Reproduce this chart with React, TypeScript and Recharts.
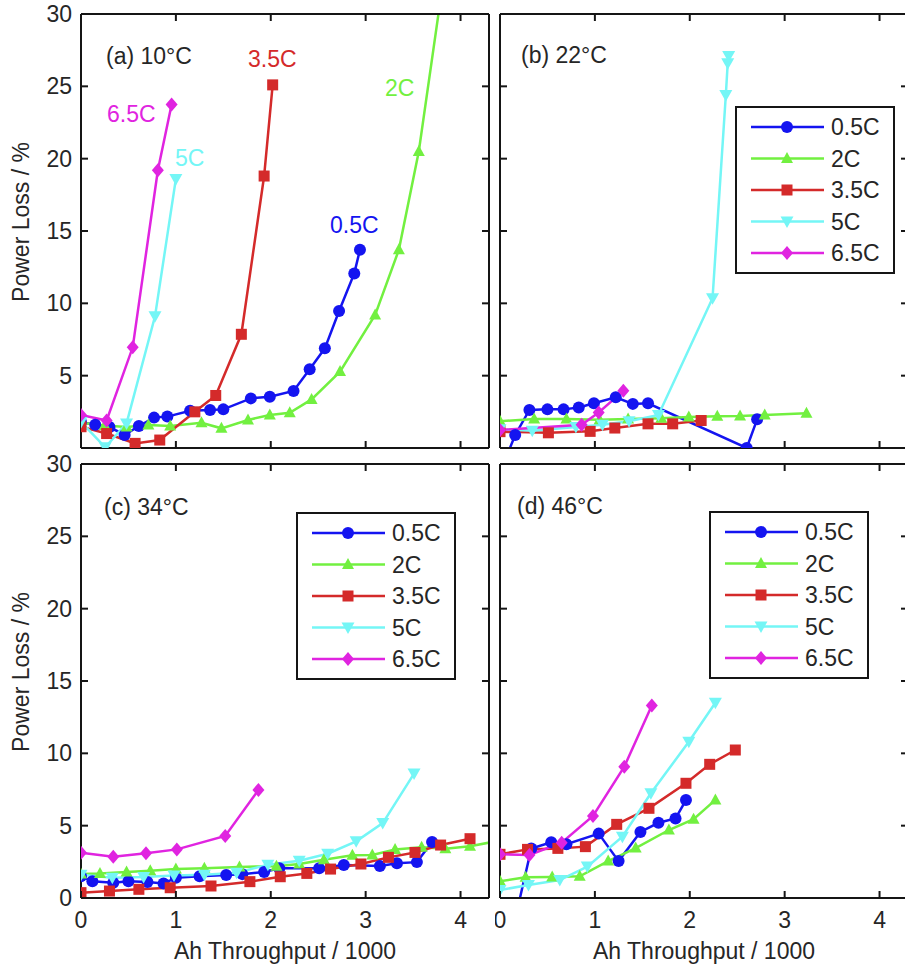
import React from 'react';
import { LineChart, Line, XAxis, YAxis } from 'recharts';

type Pair = [number, number];

const rates = ['0.5C', '2C', '3.5C', '5C', '6.5C'];
const colors = ['#1414f0', '#72f040', '#d42a2a', '#74f6f6', '#e024e0'];
const shapes = ['circle', 'triangle', 'square', 'triangleDown', 'diamond'];

const xTicks = [0, 1, 2, 3, 4];
const yTicks = [0, 5, 10, 15, 20, 25, 30];
const xDomain: [number, number] = [0, 4.3];
const yDomain: [number, number] = [0, 30];

// (a) 10°C
const a05: Pair[] = [[0, 1.8], [0.15, 1.6], [0.3, 1.45], [0.46, 0.9], [0.61, 1.52], [0.77, 2.1], [0.91, 2.17], [1.15, 2.58], [1.36, 2.63], [1.5, 2.67], [1.79, 3.43], [1.99, 3.55], [2.24, 3.94], [2.41, 5.44], [2.57, 6.89], [2.72, 9.47], [2.88, 12.07], [2.94, 13.7]];
const a2: Pair[] = [[0, 1.75], [0.25, 1.55], [0.48, 1.45], [0.71, 1.59], [0.94, 1.52], [1.27, 1.75], [1.48, 1.36], [1.76, 1.94], [1.99, 2.28], [2.2, 2.44], [2.43, 3.36], [2.73, 5.28], [3.1, 9.2], [3.35, 13.7], [3.56, 20.5], [3.8, 31.5]];
const a35: Pair[] = [[0, 1.47], [0.27, 1.0], [0.57, 0.32], [0.83, 0.55], [1.2, 2.5], [1.42, 3.63], [1.69, 7.86], [1.93, 18.8], [2.02, 25.1]];
const a5: Pair[] = [[0, 1.8], [0.255, 0.05], [0.48, 1.7], [0.78, 9.1], [1.0, 18.6]];
const a65: Pair[] = [[0, 2.28], [0.27, 1.9], [0.545, 6.96], [0.81, 19.2], [0.955, 23.75]];

// (b) 22°C
const b05: Pair[] = [[0, -1.7], [0.16, 0.9], [0.31, 2.63], [0.5, 2.67], [0.67, 2.67], [0.83, 2.8], [0.99, 3.09], [1.22, 3.5], [1.4, 3.05], [1.56, 3.09], [2.6, 0], [2.71, 1.98]];
const b2: Pair[] = [[0, 1.85], [0.36, 2.0], [0.7, 2.0], [1.05, 1.95], [1.35, 2.0], [1.7, 2.05], [1.99, 2.15], [2.29, 2.2], [2.53, 2.22], [2.79, 2.28], [3.23, 2.4]];
const b35: Pair[] = [[0, 1.13], [0.51, 1.05], [0.95, 1.15], [1.21, 1.38], [1.56, 1.67], [1.82, 1.67], [2.12, 1.9]];
const b5: Pair[] = [[0, 1.3], [0.34, 1.2], [0.8, 1.45], [1.08, 1.6], [1.36, 1.85], [1.67, 2.28], [2.24, 10.35], [2.38, 24.4], [2.4, 26.6], [2.41, 27.1]];
const b65: Pair[] = [[0, 1.25], [0.86, 1.6], [1.04, 2.45], [1.3, 3.95]];

// (c) 34°C
const c05: Pair[] = [[0, 1.5], [0.12, 1.15], [0.34, 1.05], [0.5, 1.15], [0.7, 1.1], [0.87, 1.0], [1.0, 1.4], [1.25, 1.5], [1.53, 1.59], [1.7, 1.65], [1.93, 1.8], [2.09, 2.05], [2.51, 2.05], [2.77, 2.28], [3.15, 2.21], [3.33, 2.4], [3.54, 2.48], [3.7, 3.87]];
const c2: Pair[] = [[0, 1.66], [0.2, 1.7], [0.48, 1.8], [0.73, 1.88], [1.0, 2.0], [1.3, 2.05], [1.67, 2.15], [2.06, 2.2], [2.3, 2.35], [2.56, 2.65], [2.86, 2.95], [3.07, 2.97], [3.31, 3.35], [3.59, 3.5], [3.84, 3.4], [4.1, 3.58], [4.4, 3.95]];
const c35: Pair[] = [[0, 0.37], [0.3, 0.48], [0.61, 0.6], [0.94, 0.71], [1.37, 0.83], [1.78, 1.13], [2.1, 1.47], [2.38, 1.7], [2.63, 2.0], [2.95, 2.35], [3.24, 2.81], [3.52, 3.15], [3.79, 3.66], [4.1, 4.1]];
const c5: Pair[] = [[0, 1.6], [0.33, 1.4], [0.66, 1.45], [0.98, 1.55], [1.3, 1.6], [1.64, 1.75], [1.97, 2.3], [2.3, 2.58], [2.6, 3.06], [2.9, 3.92], [3.18, 5.18], [3.51, 8.6]];
const c65: Pair[] = [[0, 3.13], [0.34, 2.86], [0.685, 3.09], [1.01, 3.36], [1.52, 4.29], [1.87, 7.47]];

// (d) 46°C
const d05: Pair[] = [[0, -6], [0.33, 3.42], [0.54, 3.85], [0.7, 3.72], [1.04, 4.45], [1.25, 2.55], [1.48, 4.57], [1.67, 5.2], [1.85, 5.5], [1.96, 6.77]];
const d2: Pair[] = [[0, 1.15], [0.27, 1.43], [0.55, 1.45], [0.84, 1.5], [1.14, 2.55], [1.43, 3.45], [1.78, 4.7], [2.04, 5.45], [2.27, 6.78]];
const d35: Pair[] = [[0, 3.02], [0.29, 3.36], [0.61, 3.43], [0.9, 3.55], [1.23, 5.09], [1.57, 6.2], [1.96, 7.93], [2.21, 9.24], [2.48, 10.23]];
const d5: Pair[] = [[0, 0.55], [0.3, 0.9], [0.63, 1.24], [0.92, 2.17], [1.29, 4.24], [1.59, 7.24], [1.99, 10.8], [2.27, 13.5]];
const d65: Pair[] = [[0, 3.02], [0.31, 2.97], [0.65, 3.82], [0.98, 5.67], [1.31, 9.08], [1.6, 13.3]];

const FONT = '"Liberation Sans", Arial, Helvetica, sans-serif';
const TXT = '#262626';
const AX = '#151515';
const TICK = 7;
const PLOT_W = 408;
const PLOT_H = 434;

function Marker({ shape, cx, cy, color }: { shape: string; cx?: number; cy?: number; color: string }) {
  if (cx == null || cy == null || isNaN(cx) || isNaN(cy)) return <g />;
  switch (shape) {
    case 'circle':
      return <circle cx={cx} cy={cy} r={6} fill={color} />;
    case 'square':
      return <rect x={cx - 5.5} y={cy - 5.5} width={11} height={11} fill={color} />;
    case 'triangle':
      return <polygon points={`${cx},${cy - 6.5} ${cx + 6},${cy + 4.5} ${cx - 6},${cy + 4.5}`} fill={color} />;
    case 'triangleDown':
      return <polygon points={`${cx},${cy + 6.5} ${cx + 6.5},${cy - 5} ${cx - 6.5},${cy - 5}`} fill={color} />;
    default:
      return <polygon points={`${cx},${cy - 7} ${cx + 6},${cy} ${cx},${cy + 7} ${cx - 6},${cy}`} fill={color} />;
  }
}

// inward tick marks on both opposite edges of the box, plus the label
function xTick(showLabel: boolean) {
  return (p: any) => {
    const { x, y, payload } = p;
    const v = payload?.value;
    return (
      <g key={`xt-${v}`}>
        <line x1={x} x2={x} y1={y} y2={y - TICK} stroke={AX} strokeWidth={2} />
        <line x1={x} x2={x} y1={y - PLOT_H} y2={y - PLOT_H + TICK} stroke={AX} strokeWidth={2} />
        {showLabel && (
          <text x={x} y={y + 30} textAnchor="middle" fontSize={23} fill={TXT} fontFamily={FONT}>{v}</text>
        )}
      </g>
    );
  };
}

function yTick(showLabel: boolean, hideZero: boolean) {
  return (p: any) => {
    const { x, y, payload } = p;
    const v = payload?.value;
    return (
      <g key={`yt-${v}`}>
        <line x1={x} x2={x + TICK} y1={y} y2={y} stroke={AX} strokeWidth={2} />
        <line x1={x + PLOT_W} x2={x + PLOT_W - TICK} y1={y} y2={y} stroke={AX} strokeWidth={2} />
        {showLabel && !(hideZero && v === 0) && (
          <text x={x - 9} y={y + 8} textAnchor="end" fontSize={23} fill={TXT} fontFamily={FONT}>{v}</text>
        )}
      </g>
    );
  };
}

function Panel({ left, top, isLeft, isBottom, series }: { left: number; top: number; isLeft: boolean; isBottom: boolean; series: Pair[][] }) {
  const width = isLeft ? 500 : 420;
  const height = isBottom ? 515 : 458;
  const yW = isLeft ? 81 : 5;
  const xH = isBottom ? 69 : 10;
  const margin = { top: isBottom ? 11 : 13, right: isLeft ? 10 : 6, left: 0, bottom: 0 };
  return (
    <div style={{ position: 'absolute', left, top, width, height }}>
      <LineChart width={width} height={height} margin={margin}>
        <XAxis
          xAxisId={0}
          dataKey="x"
          type="number"
          domain={xDomain}
          allowDataOverflow
          ticks={xTicks}
          interval={0}
          height={xH}
          tickSize={0}
          tickMargin={0}
          tickLine={false}
          stroke={AX}
          strokeWidth={2}
          tick={xTick(isBottom)}
        />
        <XAxis
          xAxisId="top"
          orientation="top"
          type="number"
          domain={xDomain}
          allowDataOverflow
          ticks={xTicks}
          height={1}
          tick={false}
          tickLine={false}
          stroke={AX}
          strokeWidth={2}
        />
        <YAxis
          yAxisId={0}
          type="number"
          domain={yDomain}
          allowDataOverflow
          ticks={yTicks}
          interval={0}
          width={yW}
          tickSize={0}
          tickMargin={0}
          tickLine={false}
          stroke={AX}
          strokeWidth={2}
          tick={yTick(isLeft, !isBottom)}
        />
        <YAxis
          yAxisId="right"
          orientation="right"
          type="number"
          domain={yDomain}
          allowDataOverflow
          ticks={yTicks}
          width={1}
          tick={false}
          tickLine={false}
          stroke={AX}
          strokeWidth={2}
        />
        {series.map((s, i) => (
          <Line
            key={rates[i]}
            name={rates[i]}
            data={s.map(([x, y]) => ({ x, y }))}
            dataKey="y"
            xAxisId={0}
            yAxisId={0}
            stroke={colors[i]}
            strokeWidth={2.5}
            isAnimationActive={false}
            dot={(p: any) => <Marker key={`m-${i}-${p.index}`} shape={shapes[i]} cx={p.cx} cy={p.cy} color={colors[i]} />}
            activeDot={false}
          />
        ))}
      </LineChart>
    </div>
  );
}

function LegendBox({ x, y }: { x: number; y: number }) {
  return (
    <g>
      <rect x={x} y={y} width={158} height={166} fill="#fff" stroke={AX} strokeWidth={2} />
      {rates.map((r, i) => {
        const cy = y + 20 + i * 31.5;
        return (
          <g key={r}>
            <line x1={x + 15} x2={x + 88} y1={cy} y2={cy} stroke={colors[i]} strokeWidth={2.5} />
            <Marker shape={shapes[i]} cx={x + 51} cy={cy} color={colors[i]} />
            <text x={x + 95} y={cy + 8} fontSize={23} fill={TXT} fontFamily={FONT}>{r}</text>
          </g>
        );
      })}
    </g>
  );
}

export default function App() {
  return (
    <div style={{ position: 'absolute', left: 0, top: 0, width: 905, height: 967, overflow: 'hidden', background: '#fff' }}>
      <Panel left={0} top={0} isLeft isBottom={false} series={[a05, a2, a35, a5, a65]} />
      <Panel left={495} top={0} isLeft={false} isBottom={false} series={[b05, b2, b35, b5, b65]} />
      <Panel left={0} top={452} isLeft isBottom series={[c05, c2, c35, c5, c65]} />
      <Panel left={495} top={452} isLeft={false} isBottom series={[d05, d2, d35, d5, d65]} />
      <svg width={905} height={967} style={{ position: 'absolute', left: 0, top: 0, pointerEvents: 'none' }}>
        <g fontFamily={FONT} fontSize={23} fill={TXT}>
          <text x={106} y={64}>(a) 10°C</text>
          <text x={521} y={63}>(b) 22°C</text>
          <text x={104} y={515}>(c) 34°C</text>
          <text x={517} y={514}>(d) 46°C</text>
          <text transform="translate(29,222) rotate(-90)" textAnchor="middle">Power Loss / %</text>
          <text transform="translate(29,672) rotate(-90)" textAnchor="middle">Power Loss / %</text>
          <text x={285} y={959} textAnchor="middle">Ah Throughput / 1000</text>
          <text x={704} y={959} textAnchor="middle">Ah Throughput / 1000</text>
        </g>
        <g fontFamily={FONT} fontSize={23}>
          <text x={248} y={67} fill={colors[2]}>3.5C</text>
          <text x={385} y={96} fill={colors[1]}>2C</text>
          <text x={107} y={122} fill={colors[4]}>6.5C</text>
          <text x={175} y={166} fill={colors[3]}>5C</text>
          <text x={330} y={233} fill={colors[0]}>0.5C</text>
        </g>
        <LegendBox x={736} y={107} />
        <LegendBox x={297} y={513} />
        <LegendBox x={710} y={512} />
      </svg>
    </div>
  );
}
